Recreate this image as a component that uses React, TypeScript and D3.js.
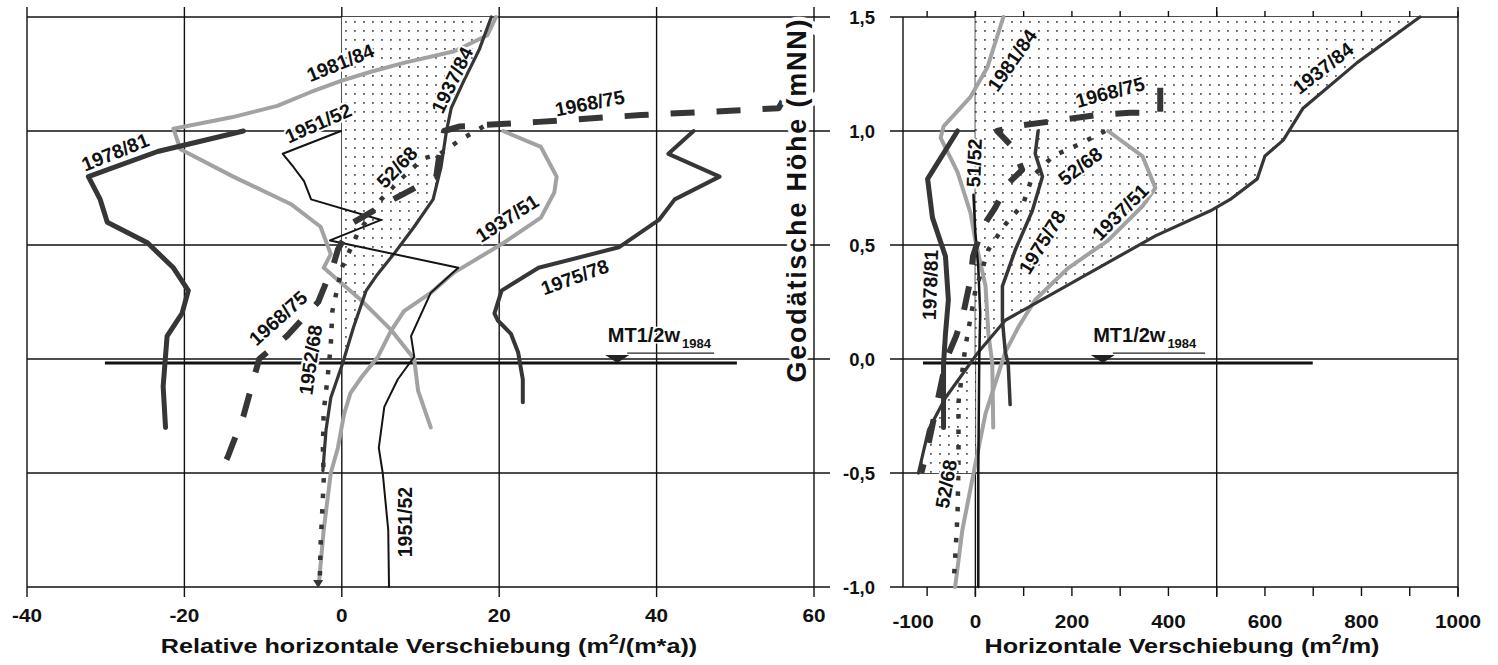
import React from 'react';
import * as d3 from 'd3';

type P = [number, number];

// ---------- Left panel: relative horizontal displacement (m²/(m*a)) vs height (mNN)
const L_1937_84: P[] = [[19.0,1.5],[17.5,1.36],[15.5,1.22],[13.9,1.1],[13.3,1.0],[12.6,0.84],[11.6,0.7],[9.2,0.58],[6.6,0.46],[4.5,0.37],[3.1,0.3],[1.5,0.14],[0.1,-0.02],[-1.4,-0.17],[-2.0,-0.31],[-2.4,-0.49]];
const L_1937_51: P[] = [[20.5,1.0],[25.3,0.93],[27.3,0.8],[27,0.73],[25.3,0.62],[20.6,0.51],[14.3,0.38],[11.3,0.29],[7.9,0.21],[6.2,0.12],[4.6,0.01],[2.5,-0.08],[1.1,-0.15],[0.3,-0.24],[-0.5,-0.39],[-1.4,-0.5],[-2.3,-0.75],[-2.9,-0.98]];
const L_1981_84: P[] = [[19.6,1.5],[18.5,1.42],[14.3,1.35],[8,1.3],[3.7,1.26],[-0.1,1.22],[-4,1.17],[-8.2,1.11],[-14,1.06],[-21.4,1.01],[-20.5,0.92],[-13.8,0.8],[-6.5,0.68],[-2.7,0.58],[-1.4,0.46],[-2.3,0.4],[2.4,0.26],[6.2,0.13],[9.2,0.0],[9.7,-0.14],[11.3,-0.3]];
const L_1975_78: P[] = [[44.7,1.0],[41.5,0.9],[48,0.8],[42.3,0.7],[40.3,0.61],[35.2,0.49],[25,0.4],[20.3,0.3],[19.4,0.2],[19.8,0.17],[21.5,0.11],[22.4,0.03],[23,-0.09],[23,-0.19]];
const L_1978_81: P[] = [[-12.5,1.0],[-23.4,0.91],[-32.2,0.8],[-30.7,0.7],[-29.8,0.6],[-24.7,0.51],[-21.4,0.4],[-19.5,0.3],[-20.3,0.2],[-22.2,0.1],[-22.7,-0.12],[-22.4,-0.3]];
const L_1951_52: P[] = [[-0.1,1.0],[-7.5,0.9],[-6.1,0.84],[-4.8,0.78],[-3.9,0.7],[5,0.61],[-1.5,0.52],[14.8,0.4],[11.3,0.29],[8.8,0.1],[9.2,0.01],[7.1,-0.09],[5.4,-0.21],[4.7,-0.39],[5.2,-0.5],[5.9,-0.75],[6.0,-1.0]];
const L_1968_75: P[] = [[56,1.13],[55.5,1.1],[50,1.09],[38,1.07],[25,1.04],[15,1.02],[13,1.0],[12.5,0.92],[12,0.8],[6,0.69],[1.5,0.6],[-0.5,0.48],[-1,0.42],[-3,0.25],[-7,0.1],[-10.5,0.0],[-12.5,-0.25],[-14.5,-0.43],[-15.5,-0.5]];
const L_1952_68: P[] = [[18,1.02],[15,0.96],[12.5,0.9],[10.4,0.88],[7.5,0.79],[5,0.7],[2,0.55],[0,0.4],[-1.2,0.21],[-1.4,0.06],[-1.8,-0.08],[-2.3,-0.23],[-2.4,-0.39],[-2.3,-0.53],[-2.5,-0.68],[-2.7,-0.82],[-2.8,-0.98]];

// ---------- Right panel: horizontal displacement (m²/m) vs height (mNN)
const R_1937_84: P[] = [[921,1.5],[791,1.3],[679,1.1],[638,0.96],[600,0.89],[584,0.79],[528,0.7],[487,0.65],[373,0.54],[62,0.17],[6,0.03],[-62,-0.17],[-97,-0.31],[-118,-0.5]];
const R_1937_51: P[] = [[275,1.0],[346,0.89],[373,0.75],[346,0.67],[275,0.52],[193,0.4],[124,0.26],[89,0.14],[62,0.03],[21,-0.24],[0,-0.46],[-27,-0.75],[-42,-1.0]];
const R_1981_84: P[] = [[58,1.5],[25,1.28],[-10,1.15],[-66,1.02],[-72,0.97],[-37,0.82],[-10,0.64],[0,0.52],[21,0.32],[27,0.11],[35,-0.02],[37,-0.3]];
const R_1975_78: P[] = [[130,1.0],[124,0.9],[139,0.8],[118,0.65],[83,0.48],[56,0.32],[56,0.17],[62,0.03],[68,-0.02],[72,-0.2]];
const R_1978_81: P[] = [[-37,1.0],[-99,0.79],[-89,0.62],[-62,0.45],[-56,0.26],[-62,0.11],[-66,-0.02],[-66,-0.3]];
const R_1951_52: P[] = [[-4,0.72],[0,0.55],[6,0.4],[10,0.2],[8,0.0],[6,-0.5],[6,-1.0]];
const R_1968_75: P[] = [[383,1.19],[383,1.08],[320,1.08],[250,1.07],[150,1.04],[80,1.02],[45,1.0],[77,0.93],[97,0.83],[68,0.77],[40,0.66],[15,0.58],[-5,0.45],[-10,0.35],[-25,0.2],[-40,0.1],[-60,0.0],[-80,-0.2],[-100,-0.4],[-112,-0.5]];
const R_1952_68: P[] = [[269,1.0],[213,0.94],[161,0.89],[118,0.8],[99,0.68],[62,0.59],[27,0.48],[0,0.3],[-21,0.05],[-35,-0.19],[-35,-0.32],[-35,-0.45],[-37,-0.68],[-41,-0.84],[-45,-0.98]];

// ---------- Ticks
const Y_TICKS = [1.5, 1.0, 0.5, 0.0, -0.5, -1.0];
const Y_TICK_LABELS = ['1,5', '1,0', '0,5', '0,0', '-0,5', '-1,0'];
const XL_TICKS = [-40, -20, 0, 20, 40, 60];
const XR_MINOR = [-100, 0, 100, 200, 300, 400, 500, 600, 700, 800, 900, 1000];
const XR_GRID = [0, 500, 1000];
const XR_LABELS = [-100, 0, 200, 400, 600, 800, 1000];

// ---------- Curve labels (data coordinates, rotation in degrees)
const LABELS_L = [
  { t: '1981/84', x: -0.2, y: 1.3, a: -22 },
  { t: '1978/81', x: -28.8, y: 0.908, a: -22 },
  { t: '1951/52', x: -3.0, y: 1.035, a: -24 },
  { t: '1937/84', x: 14.0, y: 1.224, a: -64 },
  { t: '1968/75', x: 31.5, y: 1.123, a: -11 },
  { t: '52/68', x: 7.0, y: 0.842, a: -46 },
  { t: '1937/51', x: 21.0, y: 0.618, a: -33 },
  { t: '1975/78', x: 29.6, y: 0.36, a: -20 },
  { t: '1968/75', x: -8.1, y: 0.18, a: -42 },
  { t: '1952/68', x: -4.0, y: -0.004, a: -82 },
  { t: '1951/52', x: 8.0, y: -0.715, a: -90 },
];
const LABELS_R = [
  { t: '1981/84', x: 76, y: 1.311, a: -55 },
  { t: '1968/75', x: 279, y: 1.171, a: -15 },
  { t: '51/52', x: -3, y: 0.86, a: -88 },
  { t: '52/68', x: 217, y: 0.846, a: -37 },
  { t: '1975/78', x: 138, y: 0.513, a: -58 },
  { t: '1937/51', x: 300, y: 0.645, a: -45 },
  { t: '1978/81', x: -94, y: 0.325, a: -88 },
  { t: '1937/84', x: 720, y: 1.276, a: -38 },
  { t: '52/68', x: -61, y: -0.548, a: -80 },
];

// mean high water marker (x start, x end, triangle x, label x)
const MT_L = { x0: -30.1, x1: 50.2, tri: 35.0, lab: 33.8, arrowEnd: 47.3 };
const MT_R = { x0: -108.6, x1: 699, tri: 264, lab: 244, arrowEnd: 476 };
const MT_LEVEL = -0.0175;
const MT_LABEL_LEVEL = 0.075;
const MT_ARROW_LEVEL = 0.026;

// ---------- Scales
const xL = d3.scaleLinear().domain([-40, 60]).range([27, 814]);
const xR = d3.scaleLinear().domain([-150, 1000]).range([903, 1458]);
const y = d3.scaleLinear().domain([-1, 1.5]).range([587, 17]);

const lineL = d3.line<P>().x(d => xL(d[0])).y(d => y(d[1]));
const lineR = d3.line<P>().x(d => xR(d[0])).y(d => y(d[1]));

const DARK = '#363636';
const GRAY = '#a2a2a2';
const BLACK = '#141414';
const FONT = 'Liberation Sans, Arial, Helvetica, sans-serif';

type Style = { stroke: string; w: number; dash?: string; cap?: 'butt' | 'round' };
const ST: Record<string, Style> = {
  s1937_84: { stroke: DARK, w: 3.2 },
  s1937_51: { stroke: GRAY, w: 4 },
  s1981_84: { stroke: GRAY, w: 4 },
  s1975_78: { stroke: DARK, w: 4 },
  s1978_81: { stroke: DARK, w: 5 },
  s1951_52: { stroke: BLACK, w: 2 },
  s1968_75: { stroke: DARK, w: 6, dash: '24 22', cap: 'butt' },
  s1952_68: { stroke: DARK, w: 4.5, dash: '4.5 11', cap: 'butt' },
};

const SERIES_L: [P[], Style][] = [
  [L_1937_51, ST.s1937_51], [L_1981_84, ST.s1981_84], [L_1937_84, ST.s1937_84],
  [L_1975_78, ST.s1975_78], [L_1978_81, ST.s1978_81], [L_1951_52, ST.s1951_52],
  [L_1968_75, ST.s1968_75], [L_1952_68, ST.s1952_68],
];
const SERIES_R: [P[], Style][] = [
  [R_1937_51, ST.s1937_51], [R_1981_84, ST.s1981_84], [R_1937_84, ST.s1937_84],
  [R_1975_78, { stroke: DARK, w: 3.5 }], [R_1978_81, ST.s1978_81], [R_1951_52, { stroke: BLACK, w: 2.5 }],
  [R_1968_75, ST.s1968_75], [R_1952_68, ST.s1952_68],
];

const shadeL: P[] = [[0, 1.5], ...L_1937_84.filter(d => d[1] >= -0.05), [0, -0.02]];
const shadeR: P[] = [[0, 1.5], ...R_1937_84, [0, -0.5]];

function Curve({ d, s, line }: { d: P[]; s: Style; line: d3.Line<P> }) {
  return (
    <path d={line(d) || ''} fill="none" stroke={s.stroke} strokeWidth={s.w}
      strokeDasharray={s.dash} strokeLinecap={s.cap || 'round'} strokeLinejoin="round" />
  );
}

function CurveLabel({ t, px, py, a }: { t: string; px: number; py: number; a: number }) {
  return (
    <text transform={`translate(${px},${py}) rotate(${a})`} textAnchor="middle" dominantBaseline="central"
      fontFamily={FONT} fontWeight="bold" fontSize={19.5} fill="#111"
      stroke="white" strokeWidth={4} paintOrder="stroke" strokeLinejoin="round">{t}</text>
  );
}

function MT({ m, sx }: { m: typeof MT_L; sx: d3.ScaleLinear<number, number> }) {
  const ty = y(MT_LEVEL);
  const tx = sx(m.tri);
  return (
    <g>
      <line x1={sx(m.x0)} x2={sx(m.x1)} y1={ty} y2={ty} stroke="#111" strokeWidth={3} />
      <line x1={tx + 10} x2={sx(m.arrowEnd)} y1={y(MT_ARROW_LEVEL)} y2={y(MT_ARROW_LEVEL)} stroke="#222" strokeWidth={1.2} />
      <path d={`M${tx - 12},${ty - 8} L${tx + 12},${ty - 8} L${tx},${ty} Z`} fill="#222" />
      <text x={sx(m.lab)} y={y(MT_LABEL_LEVEL)} fontFamily={FONT} fontWeight="bold" fontSize={20} fill="#111"
        stroke="white" strokeWidth={3} paintOrder="stroke">MT1/2w<tspan fontSize={13} dy={6} dx={2}>1984</tspan></text>
    </g>
  );
}

export default function App() {
  return (
    <svg width={1498} height={665} style={{ position: 'absolute', left: 0, top: 0, background: 'white' }}>
      <defs>
        <pattern id="dots" width={9} height={9} patternUnits="userSpaceOnUse">
          <rect width={9} height={9} fill="white" />
          <rect x={3} y={3} width={1.8} height={1.8} fill="#5a5a5a" />
        </pattern>
      </defs>
      <rect width={1498} height={665} fill="white" />

      {/* ---------- left panel grid ---------- */}
      {Y_TICKS.map(v => (
        <line key={'lh' + v} x1={27} x2={830} y1={y(v)} y2={y(v)} stroke="#111" strokeWidth={1.4} />
      ))}
      {XL_TICKS.map(v => (
        <line key={'lv' + v} x1={xL(v)} x2={xL(v)} y1={7} y2={597} stroke="#111" strokeWidth={1.4} />
      ))}

      {/* ---------- right panel grid ---------- */}
      {Y_TICKS.map(v => (
        <line key={'rh' + v} x1={890} x2={xR(1000)} y1={y(v)} y2={y(v)} stroke="#111" strokeWidth={1.4} />
      ))}
      <line x1={903} x2={903} y1={y(1.5)} y2={y(-1)} stroke="#111" strokeWidth={1.4} />
      {XR_GRID.map(v => (
        <line key={'rv' + v} x1={xR(v)} x2={xR(v)} y1={v === 0 ? 11 : 7} y2={597} stroke="#111" strokeWidth={1.4} />
      ))}
      {XR_MINOR.map(v => (
        <g key={'rt' + v}>
          <line x1={xR(v)} x2={xR(v)} y1={y(1.5)} y2={y(1.5) - 6} stroke="#111" strokeWidth={1.4} />
          <line x1={xR(v)} x2={xR(v)} y1={y(-1)} y2={y(-1) + 9} stroke="#111" strokeWidth={1.4} />
        </g>
      ))}

      {/* ---------- shaded areas ---------- */}
      <path d={(lineL(shadeL) || '') + 'Z'} fill="url(#dots)" stroke="none" />
      <path d={(lineR(shadeR) || '') + 'Z'} fill="url(#dots)" stroke="none" />

      {/* ---------- mean water level ---------- */}
      <MT m={MT_L} sx={xL} />
      <MT m={MT_R} sx={xR} />

      {/* ---------- curves ---------- */}
      {SERIES_L.map(([d, s], i) => <Curve key={'cl' + i} d={d} s={s} line={lineL} />)}
      {SERIES_R.map(([d, s], i) => <Curve key={'cr' + i} d={d} s={s} line={lineR} />)}
      <path d={`M${xL(-3) - 5},${y(-1) - 7} L${xL(-3) + 5},${y(-1) - 7} L${xL(-3)},${y(-1) + 1} Z`} fill={DARK} />

      {/* ---------- curve labels ---------- */}
      {LABELS_L.map((l, i) => <CurveLabel key={'ll' + i} t={l.t} px={xL(l.x)} py={y(l.y)} a={l.a} />)}
      {LABELS_R.map((l, i) => <CurveLabel key={'lr' + i} t={l.t} px={xR(l.x)} py={y(l.y)} a={l.a} />)}

      {/* ---------- axes labels ---------- */}
      {Y_TICKS.map((v, i) => (
        <text key={'yl' + v} x={875} y={y(v)} textAnchor="end" dominantBaseline="central"
          fontFamily={FONT} fontWeight="bold" fontSize={18.5} fill="#111"
          stroke="white" strokeWidth={4} paintOrder="stroke">{Y_TICK_LABELS[i]}</text>
      ))}
      {XL_TICKS.map(v => (
        <text key={'xl' + v} transform={`translate(${xL(v)},622) scale(1.15,1)`} textAnchor="middle"
          fontFamily={FONT} fontWeight="bold" fontSize={18} fill="#111">{v}</text>
      ))}
      {XR_LABELS.map(v => (
        <text key={'xr' + v} transform={`translate(${xR(v) - (v < 0 ? 14 : 0)},628) scale(1.15,1)`} textAnchor="middle"
          fontFamily={FONT} fontWeight="bold" fontSize={18} fill="#111">{v}</text>
      ))}

      <text transform="translate(806,201) rotate(-90)" textAnchor="middle" fontFamily={FONT} fontWeight="bold"
        fontSize={27} fill="#111" stroke="white" strokeWidth={8} paintOrder="stroke" textLength={363}
        lengthAdjust="spacing">Geodätische Höhe (mNN)</text>

      <text transform="translate(429,653) scale(1.2,1)" textAnchor="middle" fontFamily={FONT} fontWeight="bold"
        fontSize={21} fill="#111">Relative horizontale Verschiebung (m<tspan fontSize={15} dy={-9}>2</tspan><tspan dy={9}>/(m*a))</tspan></text>
      <text transform="translate(1182,653) scale(1.2,1)" textAnchor="middle" fontFamily={FONT} fontWeight="bold"
        fontSize={21} fill="#111">Horizontale Verschiebung (m<tspan fontSize={15} dy={-9}>2</tspan><tspan dy={9}>/m)</tspan></text>
    </svg>
  );
}
